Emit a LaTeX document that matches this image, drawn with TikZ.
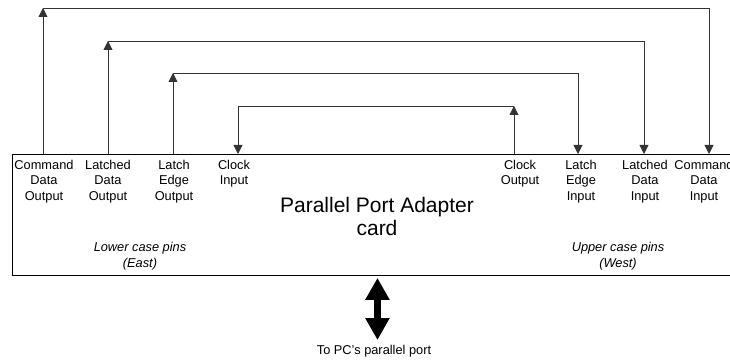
\documentclass[tikz,border=0pt]{standalone}
\usepackage{fontspec}
\setmainfont{Liberation Sans}
\usetikzlibrary{arrows.meta}
\begin{document}
\begin{tikzpicture}[x=1pt,y=-1pt,
  pin/.style={anchor=north, align=center, inner sep=0pt, font=\fontsize{12.8}{15.5}\selectfont},
  note/.style={anchor=north, align=center, inner sep=0pt, font=\fontsize{12.8}{16.5}\selectfont\itshape},
  wire/.style={draw=black!80, line width=0.9pt},
  tip/.style={-{Triangle[length=9pt,width=9pt]}},
  big/.style={line width=6.5pt, {Triangle[length=22pt,width=23pt]}-{Triangle[length=22pt,width=23pt]}}
]
\clip (0,0) rectangle (730,363);
\node[draw, line width=0.9pt, anchor=north west, minimum width=730pt, minimum height=121pt, inner sep=0pt] (card) at (12,154) {};
\node[anchor=north, align=center, inner sep=0pt, font=\fontsize{21}{23.5}\selectfont] (title) at (377,197) {Parallel Port Adapter\\card};
% pin labels
\node[pin] (cdo) at (44,160) {Command\\Data\\Output};
\node[pin] (ldo) at (108,160) {Latched\\Data\\Output};
\node[pin] (leo) at (174,160) {Latch\\Edge\\Output};
\node[pin] (ci) at (234,160) {Clock\\Input};
\node[pin] (co) at (520,160) {Clock\\Output};
\node[pin] (lei) at (581,160) {Latch\\Edge\\Input};
\node[pin] (ldi) at (645,160) {Latched\\Data\\Input};
\node[pin] (cdi) at (704,160) {Command\\Data\\Input};
\node[note] (east) at (140,242) {Lower case pins\\(East)};
\node[note] (west) at (618,242) {Upper case pins\\(West)};
% attach points and levels
\foreach \n/\x in {cdo/43, ldo/108, leo/173, ci/238, co/514, lei/578, ldi/644, cdi/709}
  \coordinate (\n p) at (\x,154);
\coordinate (lvA) at (0,8);
\coordinate (lvB) at (0,41);
\coordinate (lvC) at (0,73);
\coordinate (lvD) at (0,106);
% connectors
\draw[wire,tip] (cdop) -- (cdop |- lvA);
\draw[wire,tip] (cdop |- lvA) -- (cdip |- lvA) -- (cdip);
\draw[wire,tip] (ldop) -- (ldop |- lvB);
\draw[wire,tip] (ldop |- lvB) -- (ldip |- lvB) -- (ldip);
\draw[wire,tip] (leop) -- (leop |- lvC);
\draw[wire,tip] (leop |- lvC) -- (leip |- lvC) -- (leip);
\draw[wire,tip] (cop) -- (cop |- lvD);
\draw[wire,tip] (cop |- lvD) -- (cip |- lvD) -- (cip);
% link to PC
\node[anchor=north, inner sep=0pt, font=\fontsize{12.8}{14}\selectfont] (pc) at (374,345) {To PC's parallel port};
\draw[big] ([yshift=-2pt]card.south) -- ([yshift=5pt]card.south |- pc.north);
\end{tikzpicture}
\end{document}
